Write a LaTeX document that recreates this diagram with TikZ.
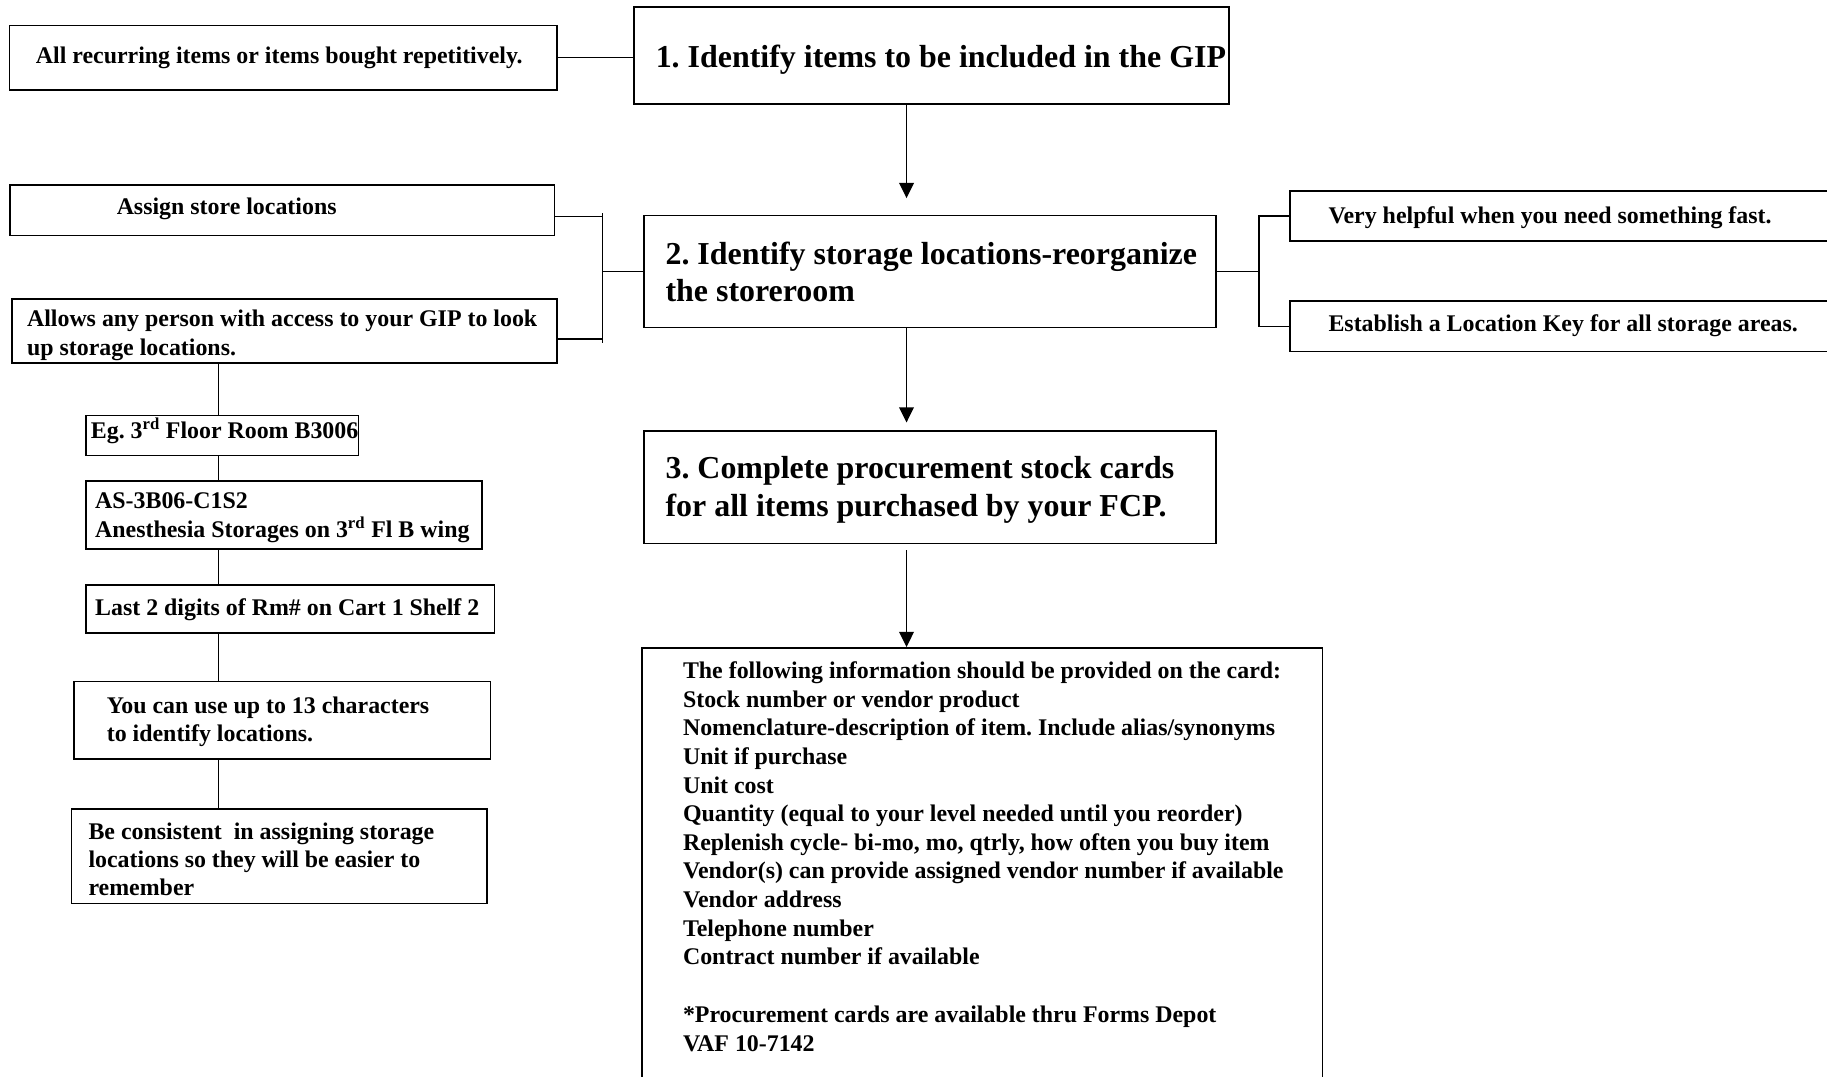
\documentclass[tikz,border=0pt]{standalone}
\usepackage{fontspec}
\setmainfont{Liberation Serif}
\usetikzlibrary{arrows.meta}
\tikzset{
  box/.style={draw, line width=1.4pt, rectangle, inner sep=0pt},
  con/.style={line width=1.2pt},
  arr/.style={con, -{Triangle[length=13pt,width=12.6pt]}},
  txt/.style={inner sep=0pt, anchor=base west, font=\fontsize{20.5}{24.5}\selectfont\bfseries\frenchspacing},
  head/.style={inner sep=0pt, anchor=base west, font=\fontsize{27.4}{32}\selectfont\bfseries\frenchspacing},
}
\begin{document}
\frenchspacing
\begin{tikzpicture}[x=1pt,y=-1pt]
\useasboundingbox (0,0) rectangle (1568,924);
\fill[white] (0,0) rectangle (1568,924);
\clip (0,0) rectangle (1568,924);

% ---------- boxes ----------
\node[box, minimum width=470pt, minimum height=55pt] (A) at (243,49.5) {};
\node[box, minimum width=511pt, minimum height=83pt] (B1) at (799.5,47.5) {};
\node[box, minimum width=467.6pt, minimum height=43pt] (As) at (242.2,180.5) {};
\node[box, minimum width=467.7pt, minimum height=55pt] (Al) at (244.2,284.2) {};
\node[box, minimum width=490.7pt, minimum height=96.2pt] (B2) at (798.3,232.9) {};
\node[box, minimum width=490.7pt, minimum height=96.4pt] (B3) at (798.3,418.2) {};
\node[box, minimum width=584pt, minimum height=424pt] (B4) at (843,768) {};
\node[box, minimum width=513pt, minimum height=42.8pt] (V) at (1363.5,185.4) {};
\node[box, minimum width=513pt, minimum height=43.5pt] (E) at (1363.5,280.05) {};
\node[box, minimum width=234pt, minimum height=34.5pt] (Eg) at (190.8,373.75) {};
\node[box, minimum width=340pt, minimum height=58.4pt] (AS) at (243.8,442.2) {};
\node[box, minimum width=350.7pt, minimum height=41.4pt] (La) at (249.15,522.7) {};
\node[box, minimum width=357.5pt, minimum height=66.8pt] (Yo) at (242.25,618.2) {};
\node[box, minimum width=356.2pt, minimum height=81pt] (Be) at (239.6,735) {};

% ---------- texts ----------
\node[txt] (tA) at (30.6,54.4) {All recurring items or items bought repetitively.};
\node[head] (t1) at (562.6,57.6) {1. Identify items to be included in the GIP};
\node[txt] (tAs) at (100,184) {Assign store locations};
\node[txt] (tAl1) at (23,280.4) {Allows any person with access to your GIP to look};
\node[txt] (tAl2) at (23,304.7) {up storage locations.};
\node[head] (t2a) at (571,226.8) {2. Identify storage locations-reorganize};
\node[head] (t2b) at (571,259) {the storeroom};
\node[head] (t3a) at (571,410.7) {3. Complete procurement stock cards};
\node[head] (t3b) at (571,442.9) {for all items purchased by your FCP.};
\node[txt] (tV) at (1140,191.7) {Very helpful when you need something fast.};
\node[txt] (tE) at (1140,284.6) {Establish a Location Key for all storage areas.};
\node[txt] (tEg) at (77.8,376.4) {Eg. 3\textsuperscript{rd} Floor Room B3006};
\node[txt] (tAS1) at (81.5,436.2) {AS-3B06-C1S2};
\node[txt] (tAS2) at (81.5,461.3) {Anesthesia Storages on 3\textsuperscript{rd} Fl B wing};
\node[txt] (tLa) at (81.5,528) {Last 2 digits of Rm\# on Cart 1 Shelf 2};
\node[txt] (tYo1) at (91.5,612.4) {You can use up to 13 characters};
\node[txt] (tYo2) at (91.5,636.3) {to identify locations.};
\node[txt] (tBe1) at (75.8,720.3) {Be consistent \ in assigning storage};
\node[txt] (tBe2) at (75.8,744.1) {locations so they will be easier to};
\node[txt] (tBe3) at (75.8,768.7) {remember};

\node[txt] (c1) at (586,582.5) {The following information should be provided on the card:};
\node[txt] (c2) at (586,607.0) {Stock number or vendor product};
\node[txt] (c3) at (586,631.6) {Nomenclature-description of item. Include alias/synonyms};
\node[txt] (c4) at (586,656.1) {Unit if purchase};
\node[txt] (c5) at (586,680.7) {Unit cost};
\node[txt] (c6) at (586,705.2) {Quantity (equal to your level needed until you reorder)};
\node[txt] (c7) at (586,729.7) {Replenish cycle- bi-mo, mo, qtrly, how often you buy item};
\node[txt] (c8) at (586,754.3) {Vendor(s) can provide assigned vendor number if available};
\node[txt] (c9) at (586,778.8) {Vendor address};
\node[txt] (c10) at (586,803.4) {Telephone number};
\node[txt] (c11) at (586,827.9) {Contract number if available};
\node[txt] (c12) at (586,877.9) {*Procurement cards are available thru Forms Depot};
\node[txt] (c13) at (586,902.0) {VAF 10-7142};

% ---------- connectors ----------
\draw[con] (A.east) -- (A.east -| B1.west);

\coordinate (a1) at (778,170);
\coordinate (a2) at (778,362.6);
\coordinate (a3s) at (778,472.3);
\draw[arr] (B1.south -| a1) -- (a1);
\draw[arr] (B2.south -| a2) -- (a2);
\draw[arr] (a3s) -- (a3s |- B4.north);

% left bracket
\coordinate (lb1) at (517,186);
\coordinate (lb2) at (517,291);
\coordinate (lbm) at (517,232.9);
\draw[con] (As.east |- lb1) -- (lb1);
\draw[con] (Al.east |- lb2) -- (lb2);
\draw[con] (517,183) -- (517,294.7);
\draw[con] (lbm) -- (B2.west);

% right bracket
\coordinate (rbm) at (1080.6,232.9);
\draw[con] (B2.east) -- (rbm);
\draw[con] (V.west) -| (rbm) |- (E.west);

% left column
\coordinate (lc) at (187.4,0);
\draw[con] (Al.south -| lc) -- (Eg.north -| lc);
\draw[con] (Eg.south -| lc) -- (AS.north -| lc);
\draw[con] (AS.south -| lc) -- (La.north -| lc);
\draw[con] (La.south -| lc) -- (Yo.north -| lc);
\draw[con] (Yo.south -| lc) -- (Be.north -| lc);
\end{tikzpicture}
\end{document}
